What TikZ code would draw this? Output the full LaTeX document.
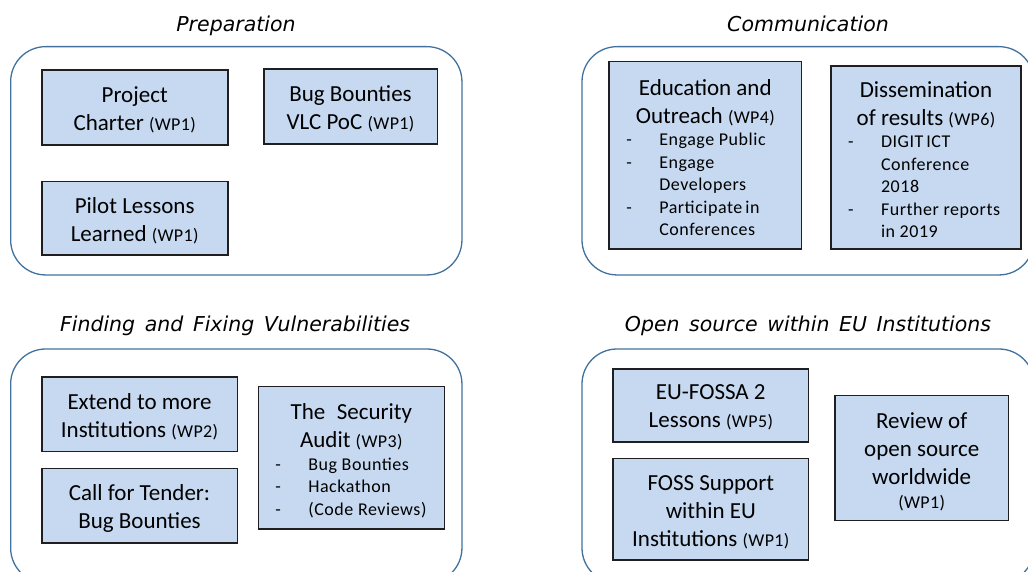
\documentclass[tikz,border=0pt]{standalone}
\usepackage{fontspec}
\setmainfont{Carlito}
\newfontfamily\headfont{DejaVu Sans}
\newfontfamily\listfont{Carlito}[LetterSpace=3]
\newfontfamily\tagfont{Carlito}[LetterSpace=2]

\definecolor{panelline}{HTML}{41719C}
\definecolor{cardfill}{HTML}{C6D9F1}
\definecolor{cardline}{HTML}{1F1F1F}

% work-package tag in smaller type
\newcommand\wpref[1]{{\tagfont\fontsize{18}{20}\selectfont(WP#1)}}
% one line of a dashed list: dash column, then text column
\newcommand\listline[2]{\par\noindent\hspace*{17pt}\makebox[33pt][l]{#1}#2}

\tikzset{
  panel/.style={draw=panelline, line width=1.3pt, rounded corners=35pt, inner sep=0pt},
  paneltitle/.style={anchor=base, inner sep=0pt, font=\headfont\itshape\fontsize{20.5}{24}\selectfont},
  card/.style={draw=cardline, line width=1.6pt, fill=cardfill, inner sep=0pt},
  cardtext/.style={inner sep=0pt, align=center, font=\fontsize{23}{28}\selectfont},
}

\begin{document}
\begin{tikzpicture}[x=1pt,y=-1pt]
\useasboundingbox (0,0) rectangle (1028,572);
\clip (0,0) rectangle (1028,572);

% ---------- panels ----------
\node[panel, minimum width=451.3pt, minimum height=228.3pt] (prep) at (236.3,160.8) {};
\node[panel, minimum width=452pt,   minimum height=228.3pt] (comm) at (808,160.8) {};
\node[panel, minimum width=451.3pt, minimum height=234pt]   (vuln) at (236.3,466) {};
\node[panel, minimum width=452pt,   minimum height=234pt]   (oss)  at (808,466) {};

\node[paneltitle] (prep-t) at (236,31.5)  {Preparation};
\node[paneltitle] (comm-t) at (808,31.5)  {Communication};
\node[paneltitle] (vuln-t) at (235,331.5) {Finding\hspace{0.15em} and\hspace{0.15em} Fixing\hspace{0.15em} Vulnerabilities};
\node[paneltitle] (oss-t)  at (808,331.5) {Open\hspace{0.15em} source\hspace{0.15em} within\hspace{0.15em} EU\hspace{0.15em} Institutions};

% ---------- Preparation ----------
\node[card, minimum width=186pt, minimum height=75pt] (charter) at (134.7,107.8) {};
\node[cardtext] (charter-txt) at ([yshift=-2.5pt]charter.center) {Project\\ Charter \wpref{1}};
\node[card, minimum width=173.6pt, minimum height=75pt] (vlc) at (350.5,106.5) {};
\node[cardtext] (vlc-txt) at ([yshift=-2.5pt]vlc.center) {Bug Bounties\\ VLC PoC \wpref{1}};
\node[card, minimum width=186pt, minimum height=73.3pt] (pilot) at (134.7,218.3) {};
\node[cardtext] (pilot-txt) at ([yshift=-2.5pt]pilot.center) {Pilot Lessons\\ Learned \wpref{1}};

% ---------- Communication ----------
\node[card, minimum width=192.7pt, minimum height=187.3pt] (edu) at (705.3,155.3) {};
\node[cardtext] (edu-txt) at ([yshift=-2.5pt]edu.center)
  {\parbox{192pt}{\centering\fontsize{23}{28}\selectfont Education and\\ Outreach \wpref{4}\par
   \raggedright\listfont\fontsize{18}{22.5}\selectfont
   \listline{-}{Engage Public}
   \listline{-}{Engage}
   \listline{}{Developers}
   \listline{-}{Participate\,in}
   \listline{}{Conferences}\par}};
\node[card, minimum width=190pt, minimum height=183pt] (diss) at (926,157.5) {};
\node[cardtext] (diss-txt) at ([yshift=-2pt]diss.center)
  {\parbox{190pt}{\centering\fontsize{23}{28}\selectfont Dissemination\\ of results \wpref{6}\par
   \raggedright\listfont\fontsize{18}{22.5}\selectfont
   \listline{-}{DIGIT\,ICT}
   \listline{}{Conference}
   \listline{}{2018}
   \listline{-}{Further reports}
   \listline{}{in 2019}\par}};

% ---------- Finding and Fixing Vulnerabilities ----------
\node[card, minimum width=195.6pt, minimum height=74.7pt] (extend) at (139.5,414.3) {};
\node[cardtext] (extend-txt) at ([yshift=-2.5pt]extend.center) {Extend to more\\ Institutions \wpref{2}};
\node[card, minimum width=195.6pt, minimum height=74.3pt] (tender) at (139.5,505.8) {};
\node[cardtext] (tender-txt) at ([yshift=-2.5pt]tender.center) {Call for Tender:\\ Bug Bounties};
\node[card, minimum width=186pt, minimum height=142.3pt] (audit) at (351.3,457.8) {};
\node[cardtext] (audit-txt) at ([yshift=-3pt]audit.center)
  {\parbox{186pt}{\centering\fontsize{23}{28}\selectfont The\hspace{0.5em}Security\\ Audit \wpref{3}\par
   \raggedright\listfont\fontsize{18}{22.5}\selectfont
   \listline{-}{Bug Bounties}
   \listline{-}{Hackathon}
   \listline{-}{(Code Reviews)}\par}};

% ---------- Open source within EU Institutions ----------
\node[card, minimum width=195.7pt, minimum height=73pt] (fossa) at (710.8,405.2) {};
\node[cardtext] (fossa-txt) at ([yshift=-2.5pt]fossa.center) {EU-FOSSA 2\\ Lessons \wpref{5}};
\node[card, minimum width=195.7pt, minimum height=101.3pt] (support) at (710.8,509.3) {};
\node[cardtext] (support-txt) at ([yshift=-2.5pt]support.center) {FOSS Support\\ within EU\\ Institutions \wpref{1}};
\node[card, minimum width=173.3pt, minimum height=125pt] (review) at (921.7,457.8) {};
\node[cardtext] (review-txt) at ([yshift=-4.5pt]review.center) {Review of\\ open source\\ worldwide\\[-4pt] \wpref{1}};
\end{tikzpicture}
\end{document}
